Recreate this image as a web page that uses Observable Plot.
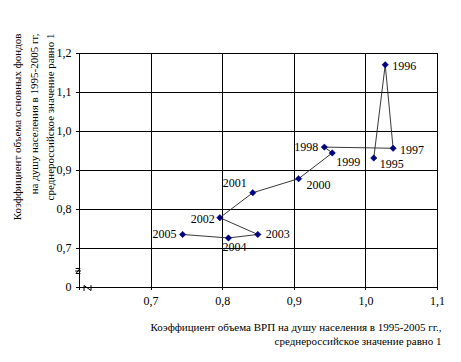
<!DOCTYPE html>
<html>
<head>
<meta charset="utf-8">
<script src="https://cdn.jsdelivr.net/npm/d3@7"></script>
<script src="https://cdn.jsdelivr.net/npm/@observablehq/plot@0.6"></script>
<style>
  html, body { margin: 0; padding: 0; background: #fff; }
  #chart { width: 461px; height: 362px; }
</style>
</head>
<body>
<div id="chart"></div>
<script>
// ---- data ----
const years = [1995, 1996, 1997, 1998, 1999, 2000, 2001, 2002, 2003, 2004, 2005];
const grpCoef = [1.011, 1.027, 1.038, 0.942, 0.953, 0.906, 0.842, 0.796, 0.849, 0.808, 0.744];
const fundsCoef = [0.932, 1.171, 0.957, 0.960, 0.945, 0.879, 0.843, 0.779, 0.736, 0.727, 0.736];
const xTicks = [0.6, 0.7, 0.8, 0.9, 1.0, 1.1];
const xTickLabels = ["", "0,7", "0,8", "0,9", "1,0", "1,1"];
const yTicks = [0.6, 0.7, 0.8, 0.9, 1.0, 1.1, 1.2];
const yTickLabels = ["0", "0,7", "0,8", "0,9", "1,0", "1,1", "1,2"];
const yTitle = "Коэффициент объема основных фондов\nна душу населения в 1995-2005 гг,\nсреднероссийское значение равно 1";
const xTitle = "Коэффициент объема ВРП на душу населения в 1995-2005 гг.,\nсреднероссийское значение равно 1";

const points = years.map((y, i) => ({year: y, x: grpCoef[i], y: fundsCoef[i]}));

// label placement (style, not data)
const place = {
  1995: {a: "start", dx: 6, dy: 6},
  1996: {a: "start", dx: 7, dy: 1},
  1997: {a: "start", dx: 7, dy: 2},
  1998: {a: "end", dx: -6, dy: 0},
  1999: {a: "start", dx: 4, dy: 9},
  2000: {a: "start", dx: 8, dy: 6},
  2001: {a: "end", dx: -6, dy: -10},
  2002: {a: "end", dx: -5, dy: 1},
  2003: {a: "start", dx: 8, dy: 0},
  2004: {a: "middle", dx: 6, dy: 9},
  2005: {a: "end", dx: -6, dy: 0}
};

const font = "'Liberation Serif', 'Times New Roman', serif";

const labelMarks = years.map(yr => {
  const p = place[yr];
  return Plot.text(points.filter(d => d.year === yr), {
    x: "x", y: "y", text: d => String(d.year),
    textAnchor: p.a, dx: p.dx, dy: p.dy, fontSize: 12, fill: "black"
  });
});

// axis-break decorations (in data coordinates)
const breakY = [{x: 0.5951, y: 0.6487}, {x: 0.6007, y: 0.6487}, {x: 0.5951, y: 0.6359}, {x: 0.6007, y: 0.6359}];
const breakYbar = [{x: 0.5945, y: 0.6423}, {x: 0.6015, y: 0.6423}];
const breakX = [{x: 0.6063, y: 0.5923}, {x: 0.6063, y: 0.6051}, {x: 0.6161, y: 0.5923}, {x: 0.6161, y: 0.6051}];

const crisp = {shapeRendering: "crispEdges"};

const chart = Plot.plot({
  width: 461,
  height: 362,
  marginLeft: 79,
  marginRight: 24,
  marginTop: 53,
  marginBottom: 75,
  style: {fontFamily: font, background: "white", color: "black"},
  x: {domain: [0.6, 1.1]},
  y: {domain: [0.6, 1.2]},
  marks: [
    Plot.ruleX(xTicks, {stroke: "black", strokeWidth: 1, ...crisp}),
    Plot.ruleY(yTicks, {stroke: "black", strokeWidth: 1, ...crisp}),
    Plot.axisX({ticks: xTicks, tickFormat: d => xTickLabels[xTicks.indexOf(d)], tickSize: 3, tickPadding: 6, fontSize: 12, label: null, stroke: "black", ...crisp}),
    Plot.axisY({ticks: yTicks, tickFormat: d => yTickLabels[yTicks.indexOf(d)], tickSize: 3, tickPadding: 5, fontSize: 12, label: null, stroke: "black", ...crisp}),
    Plot.line(breakY, {x: "x", y: "y", stroke: "black", strokeWidth: 1, clip: false}),
    Plot.line(breakYbar, {x: "x", y: "y", stroke: "black", strokeWidth: 1, clip: false}),
    Plot.line(breakX, {x: "x", y: "y", stroke: "black", strokeWidth: 1, clip: false}),
    Plot.line(points, {x: "x", y: "y", stroke: "#222", strokeWidth: 0.9}),
    Plot.dot(points, {x: "x", y: "y", symbol: "diamond2", r: 2.9, fill: "#000080", stroke: "#000080", strokeWidth: 0.5}),
    ...labelMarks,
    Plot.text([yTitle], {frameAnchor: "top-left", text: d => d, rotate: -90, textAnchor: "end", lineAnchor: "middle", lineHeight: 1.5, dx: -47, dy: -20, fontSize: 11, fill: "black"}),
    Plot.text([xTitle], {frameAnchor: "bottom-right", text: d => d, textAnchor: "end", lineAnchor: "top", lineHeight: 1.3, dx: 4, dy: 33, fontSize: 11, fill: "black"})
  ]
});
document.getElementById("chart").appendChild(chart);
</script>
</body>
</html>
